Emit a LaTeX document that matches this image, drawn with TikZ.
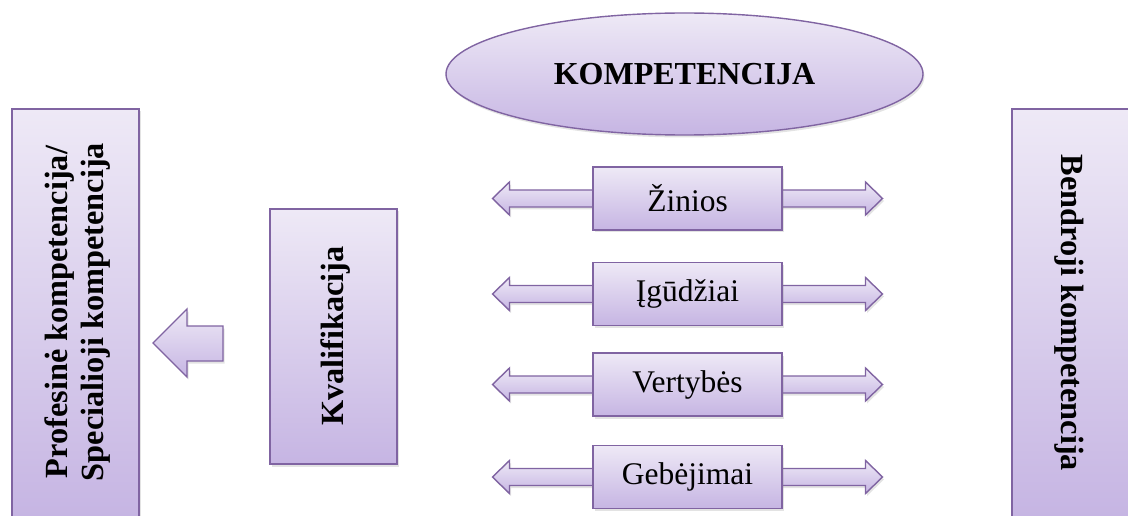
\documentclass[tikz,border=0pt]{standalone}
\usepackage{fontspec}
\setmainfont{Liberation Serif}
\usetikzlibrary{shapes.geometric,shadows}

\definecolor{edgepurple}{RGB}{128,100,162}
\definecolor{filltop}{RGB}{238,233,246}
\definecolor{fillbottom}{RGB}{198,181,227}

\tikzset{
  x=1pt, y=1pt,
  panel/.style={draw=edgepurple, line width=1.4pt, top color=filltop,
    bottom color=fillbottom, inner sep=0pt,
    drop shadow={shadow xshift=1.5pt, shadow yshift=-2.5pt, opacity=0.22}},
  tallbox/.style={panel, rectangle, minimum width=127pt, minimum height=408pt},
  midbox/.style={panel, rectangle, minimum width=127pt, minimum height=255pt},
  itembox/.style={panel, rectangle, minimum width=189pt, minimum height=63pt,
    font=\fontsize{31.5}{36}\selectfont},
  oval/.style={panel, ellipse, minimum width=477pt, minimum height=122pt,
    font=\fontsize{32}{36}\selectfont\bfseries},
  boldlabel/.style={font=\fontsize{32.3}{36}\selectfont\bfseries, align=center,
    inner sep=0pt},
  blockarrow/.style={draw=edgepurple, line width=1.4pt, top color=filltop,
    bottom color=fillbottom,
    drop shadow={shadow xshift=1.5pt, shadow yshift=-2.5pt, opacity=0.22}},
}

% double-headed arrow running behind an item box, centred on the box
\newcommand{\twoway}[1]{%
  \path[blockarrow, shift={(#1.center)}]
    (-195,0) -- (-178,16.5) -- (-178,8.5) -- (178,8.5) -- (178,16.5)
    -- (195,0) -- (178,-16.5) -- (178,-8.5) -- (-178,-8.5) -- (-178,-16.5)
    -- cycle;}

\begin{document}
\begin{tikzpicture}
  \useasboundingbox (0,0) rectangle (1128,515);

  % outer columns
  \node[tallbox] (prof) at (75.5,202) {};
  \node[boldlabel, rotate=90] (proftext) at (78,203)
    {Profesinė kompetencija/\\Specialioji kompetencija};

  \node[tallbox] (bendr) at (1075.5,202) {};
  \node[boldlabel, rotate=-90] (bendrtext) at (1069,202)
    {Bendroji kompetencija};

  % qualification box and the arrow pointing to the left column
  \node[midbox] (kval) at (333.5,178.5) {};
  \node[boldlabel, rotate=90] (kvaltext) at (336,179) {Kvalifikacija};

  \coordinate (kvaltip) at (153,172);
  \path[blockarrow, shift={(kvaltip)}]
    (0,0) -- (34,34) -- (34,17) -- (70,17) -- (70,-18) -- (34,-18)
    -- (34,-34) -- cycle;

  % title ellipse
  \node[oval] (komp) at (684.5,441) {KOMPETENCIJA};

  % component rows: coordinates first, arrows behind, boxes on top
  \coordinate (r1) at (687.5,316.5);
  \coordinate (r2) at (687.5,221);
  \coordinate (r3) at (687.5,130.5);
  \coordinate (r4) at (687.5,38);

  \twoway{r1}
  \twoway{r2}
  \twoway{r3}
  \twoway{r4}

  \node[itembox] (zinios)    at (r1) {Žinios};
  \node[itembox] (igudziai)  at (r2) {Įgūdžiai};
  \node[itembox] (vertybes)  at (r3) {Vertybės};
  \node[itembox] (gebejimai) at (r4) {Gebėjimai};
\end{tikzpicture}
\end{document}
